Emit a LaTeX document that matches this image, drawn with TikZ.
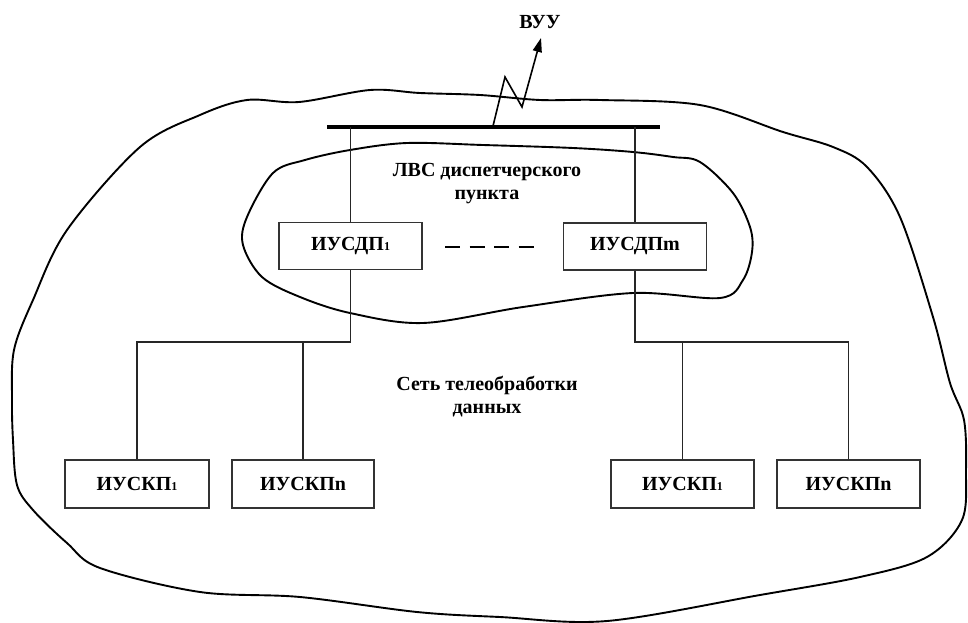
\documentclass[tikz,border=0pt]{standalone}
\usepackage{fontspec}
\setmainfont{Liberation Serif}
\usetikzlibrary{arrows.meta,calc}
\newcommand{\smallone}{{\fontsize{12}{12}\selectfont 1}}
\begin{document}
\begin{tikzpicture}[x=1pt,y=-1pt,
  box/.style={draw=black!80,line width=1.3pt,minimum width=143pt,minimum height=47pt,inner sep=0pt,font=\fontsize{20}{23}\selectfont\bfseries},
  lbl/.style={align=center,font=\fontsize{20}{23}\selectfont\bfseries},
  wire/.style={line width=1.5pt,black!85},
  blob/.style={line width=1.9pt,black}]
\useasboundingbox (0,0) rectangle (968,623);

% outer blob
\draw[blob] plot[smooth cycle,tension=0.55] coordinates {
 (247,100) (299,102) (370,90) (420,93) (480,95) (540,100) (600,100) (700,105)
 (783,132) (833,147) (867,167) (900,217) (933,317) (950,383) (964,420) (966,470)
 (962,520) (927,557) (860,577) (760,595) (607,621) (500,617) (417,612) (300,597)
 (200,592) (100,568) (67,543) (33,510) (17,485) (13,440) (12,400) (14,350)
 (33,300) (67,230) (140,147) (200,115)};

% inner blob
\draw[blob] plot[smooth cycle,tension=0.55] coordinates {
 (350,150) (407,143) (483,145) (573,148) (633,152) (673,157) (700,162)
 (733,193) (750,227) (752,252) (743,280) (720,298) (633,293) (523,307)
 (423,323) (350,313) (300,297) (262,277) (243,245) (247,217) (273,173) (305,160)};

% nodes
\node[box] (d1) at (350.5,246) {ИУСДП\smallone};
\node[box] (d2) at (635,246.5) {ИУСДПm};
\node[box,minimum height=48pt,minimum width=144pt] (k1) at (137,484) {ИУСКП\smallone};
\node[box,minimum height=48pt,minimum width=142pt] (k2) at (303,484) {ИУСКПn};
\node[box,minimum height=48pt,minimum width=143pt] (k3) at (682.5,484) {ИУСКП\smallone};
\node[box,minimum height=48pt,minimum width=143pt] (k4) at (848.5,484) {ИУСКПn};

\node[lbl] (lvs) at (487,184) {ЛВС диспетчерского\\пункта};
\node[lbl] (net) at (487,397) {Сеть телеобработки\\данных};
\node[lbl] (vuu) at (540,22) {ВУУ};

% bus
\coordinate (busL) at (327,127);
\coordinate (busR) at (660,127);
\draw[line width=3.2pt] (busL) -- (busR);
\draw[wire] (d1.north) -- (d1.north |- busL);
\draw[wire] (d2.north) -- (d2.north |- busL);

% lower trees
\coordinate (jL) at (350.5,342);
\coordinate (jR) at (635,342);
\draw[wire] (d1.south) -- (jL) -- (k1.north |- jL) -- (k1.north);
\draw[wire] (k2.north) -- (k2.north |- jL);
\draw[wire] (d2.south) -- (jR) -- (k4.north |- jR) -- (k4.north);
\draw[wire] (k3.north) -- (k3.north |- jR);

% dashes
\coordinate (dA) at (445,247);
\coordinate (dB) at (534,247);
\draw[line width=2.2pt,dash pattern=on 15pt off 9.5pt] (dA) -- (dB);

% radio link
\coordinate (z0) at (493,126);
\coordinate (z1) at (505,77);
\coordinate (z2) at (522,107);
\coordinate (z3) at (541,38);
\draw[line width=1.6pt,-{Triangle[length=14pt,width=9pt]}] (z0) -- (z1) -- (z2) -- (z3);
\end{tikzpicture}
\end{document}
